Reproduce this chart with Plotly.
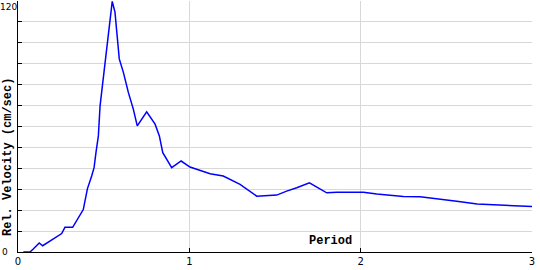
import plotly.graph_objects as go

period = [0.031, 0.070, 0.089, 0.124, 0.144, 0.255, 0.274, 0.319, 0.381, 0.405,
          0.430, 0.444, 0.455, 0.469, 0.479, 0.494, 0.514, 0.527, 0.541, 0.550,
          0.566, 0.576, 0.591, 0.615, 0.644, 0.673, 0.696, 0.751, 0.800, 0.825,
          0.845, 0.897, 0.952, 1.004, 1.121, 1.198, 1.296, 1.393, 1.452, 1.510,
          1.568, 1.627, 1.701, 1.802, 1.861, 2.016, 2.094, 2.249, 2.347, 2.464,
          2.561, 2.680, 2.833, 3.0]
velocity = [0, 0, 1.4, 4.3, 3.0, 8.8, 11.8, 11.8, 20.3, 30.2,
            36.3, 40.3, 47.5, 55.5, 69.9, 81.1, 95.5, 105.1, 114.7, 119.8,
            114.7, 105.1, 92.3, 85.9, 76.3, 68.3, 60.3, 67.0, 61.1, 55.5,
            47.5, 40.3, 43.5, 40.6, 37.4, 36.3, 32.3, 26.7, 27.0, 27.2,
            29.1, 30.7, 33.1, 28.3, 28.6, 28.6, 27.7, 26.5, 26.4, 25.4,
            24.3, 22.9, 22.2, 21.7]

y_tickvals = list(range(0, 130, 10))
y_min_label = "0"
y_max_label = "120"
x_tickvals = [0, 1, 2, 3]
x_ticktext = ["0", "1", "2", "3"]

fig = go.Figure()
fig.add_trace(go.Scatter(x=period, y=velocity, mode="lines",
                         line=dict(color="#0000ff", width=1.5)))

grid = "#d8d8d8"
tick_font = dict(family="DejaVu Sans", size=10, color="black")
y_label_font = dict(family="DejaVu Sans", size=9, color="black")
fig.update_layout(
    width=540, height=270,
    margin=dict(l=18, r=8, t=1, b=18),
    paper_bgcolor="white", plot_bgcolor="white",
    showlegend=False,
    font=dict(family="DejaVu Sans", size=10, color="black"),
    xaxis=dict(range=[0, 3], tickvals=x_tickvals, ticktext=x_ticktext,
               showgrid=True, gridcolor=grid, gridwidth=1,
               showline=True, linecolor="black", linewidth=1,
               ticks="inside", ticklen=4, tickcolor="black",
               zeroline=False, tickfont=tick_font, automargin=False),
    yaxis=dict(range=[0, 120], tickvals=y_tickvals, showticklabels=False,
               showgrid=True, gridcolor=grid, gridwidth=1,
               showline=True, linecolor="black", linewidth=1,
               ticks="inside", ticklen=4, tickcolor="black",
               zeroline=False, automargin=False),
    annotations=[
        dict(text=y_max_label, xref="paper", yref="y", x=0, y=120,
             xanchor="right", yanchor="top", xshift=0, yshift=0, borderpad=0,
             showarrow=False, font=y_label_font),
        dict(text=y_min_label, xref="paper", yref="y", x=0, y=0,
             xanchor="right", yanchor="middle", xshift=-9, borderpad=0,
             showarrow=False, font=y_label_font),
        dict(text="<b>Period</b>", xref="paper", yref="paper",
             x=(330 - 18) / 514, y=(252 - 241) / 251,
             xanchor="center", yanchor="middle", showarrow=False,
             font=dict(family="Liberation Mono", size=12, color="black")),
        dict(text="<b>Rel. Velocity (cm/sec)</b>", xref="paper", yref="paper",
             x=(8 - 18) / 514, y=(252 - 157) / 251, textangle=-90,
             xanchor="center", yanchor="middle", showarrow=False,
             font=dict(family="Liberation Mono", size=12, color="black")),
    ],
)
fig.write_html("out.html")
